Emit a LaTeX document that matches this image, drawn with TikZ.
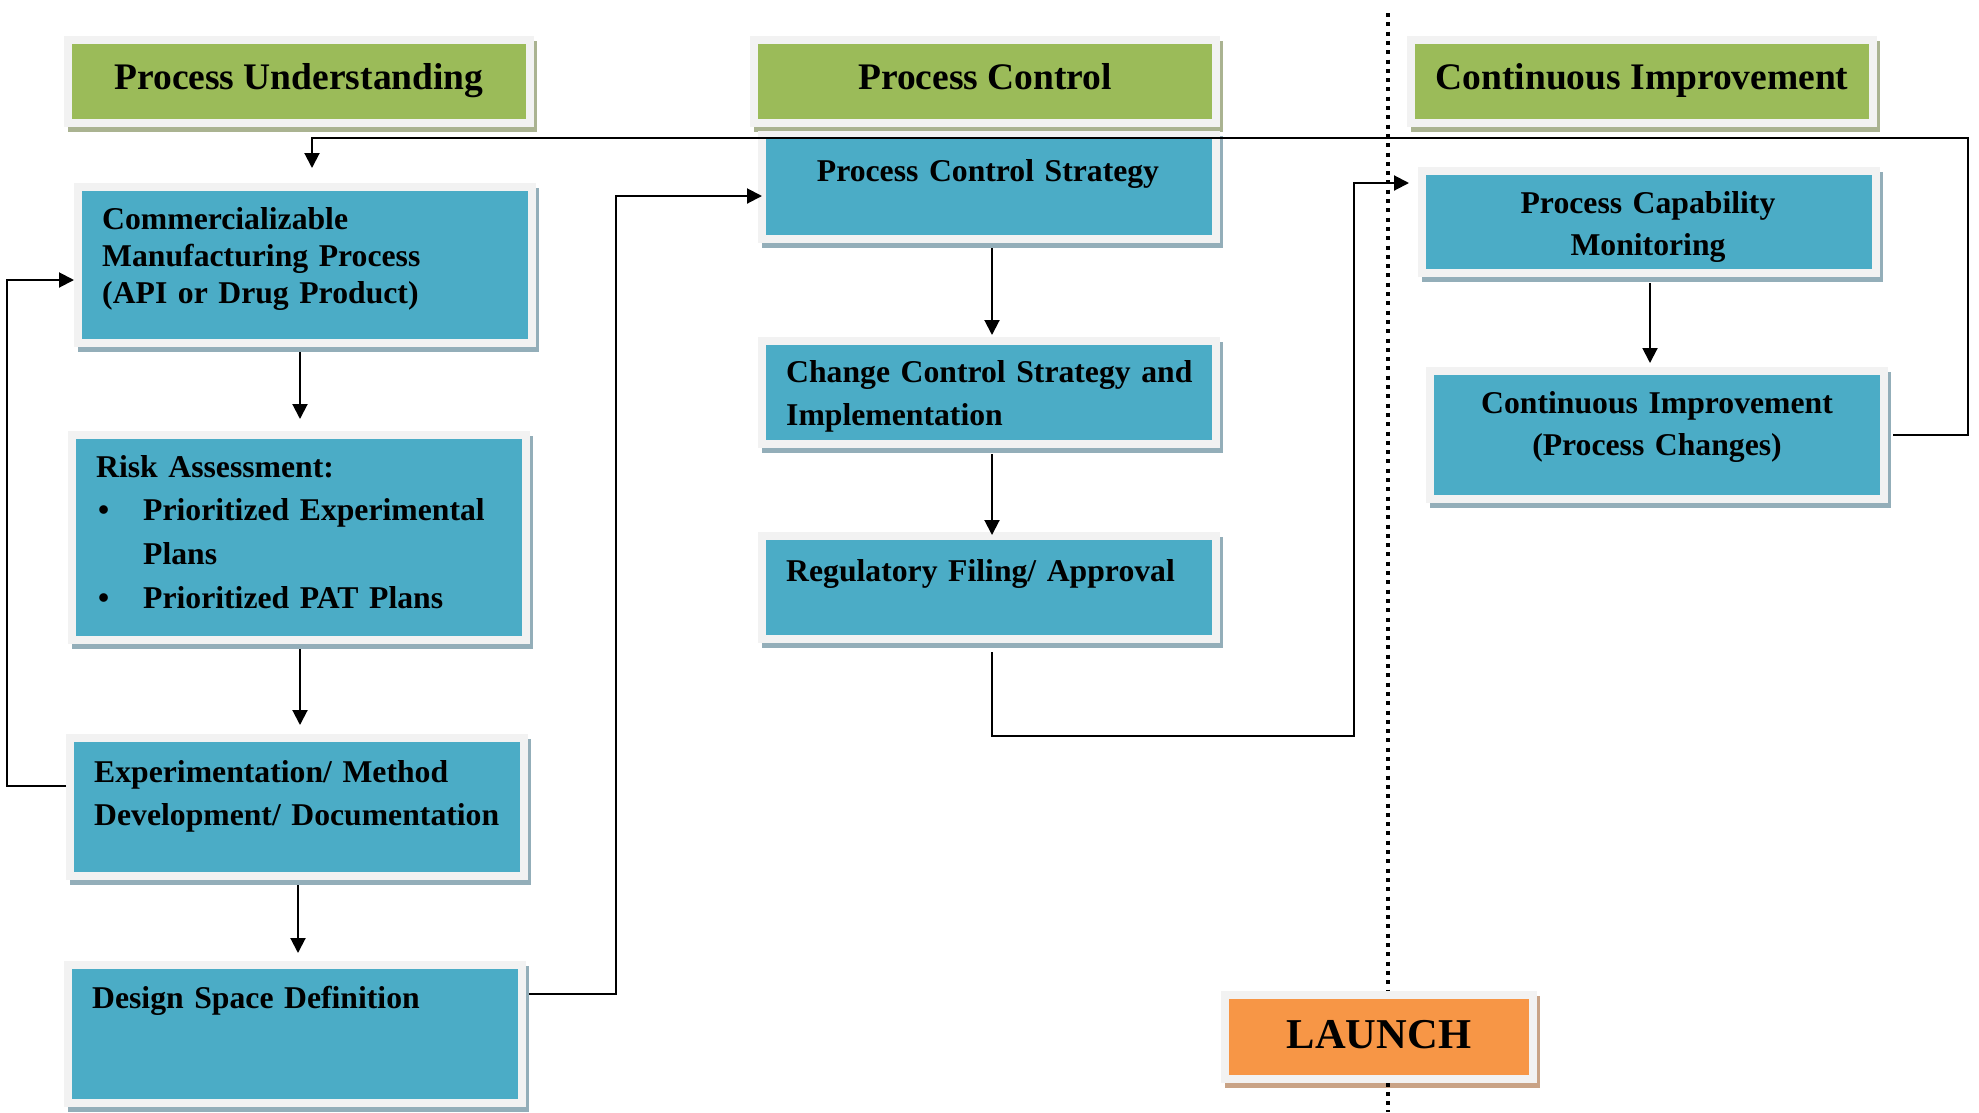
\documentclass[tikz,border=0pt]{standalone}
\usepackage{fontspec}
\setmainfont{Liberation Serif}
\usetikzlibrary{arrows.meta,backgrounds,calc}
\definecolor{framegray}{HTML}{F2F2F2}
\definecolor{cellblue}{HTML}{4BACC6}
\definecolor{cellgreen}{HTML}{9BBB59}
\definecolor{cellorange}{HTML}{F79646}
\definecolor{shblue}{HTML}{93AEB9}
\definecolor{shgreen}{HTML}{AAB391}
\definecolor{shorange}{HTML}{C9A386}

\begin{document}
\begin{tikzpicture}[x=1pt,y=-1pt,
  frame/.style={draw=framegray,line width=8pt,inner sep=0pt,outer sep=4pt,anchor=north west},
  bluebox/.style={frame,fill=cellblue,minimum width=454},
  greenbox/.style={frame,fill=cellgreen,minimum width=462,minimum height=83},
  orangebox/.style={frame,fill=cellorange},
  body/.style={inner sep=0pt,font=\bfseries\fontsize{31.7}{43}\selectfont,align=left,text width=440pt,anchor=base west},
  bodyc/.style={inner sep=0pt,font=\bfseries\fontsize{31.7}{42}\selectfont,align=center,text width=440pt,anchor=base},
  head/.style={inner sep=0pt,font=\bfseries\fontsize{37.5}{45}\selectfont,anchor=base},
  link/.style={line width=2pt},
  arr/.style={link,-{Triangle[length=15pt,width=15pt]}},
]
\useasboundingbox (0,0) rectangle (1979,1112);

% phase separator (launch)
\draw[line width=4pt,dash pattern=on 4pt off 5.3pt] (1388,13) -- (1388,1112);

% column headers
\node[greenbox] (h1) at (64,36) {};
\node[greenbox] (h2) at (750,36) {};
\node[greenbox] (h3) at (1407,36) {};
\node[head] (h1t) at (299,89) {Process Understanding};
\node[head] (h2t) at (985,89) {Process Control};
\node[head] (h3t) at (1642,89) {Continuous Improvement};

% process understanding column
\node[bluebox,minimum height=156] (b1) at (74,183) {};
\node[bluebox,minimum height=205] (b2) at (68,431) {};
\node[bluebox,minimum height=138] (b3) at (66,734) {};
\node[bluebox,minimum height=138] (b4) at (64,961) {};

% process control column
\node[bluebox,minimum height=104] (c1) at (758,131) {};
\node[bluebox,minimum height=103] (c2) at (758,337) {};
\node[bluebox,minimum height=103] (c3) at (758,532) {};

% continuous improvement column
\node[bluebox,minimum height=102] (pcm) at (1418,167) {};
\node[bluebox,minimum height=128] (ci) at (1426,367) {};

% launch
\node[orangebox,minimum width=308,minimum height=84] (launch) at (1221,991) {};

% drop shadows
\begin{pgfonlayer}{background}
\foreach \n/\c in {h1/shgreen,h2/shgreen,h3/shgreen,b1/shblue,b2/shblue,b3/shblue,b4/shblue,c1/shblue,c2/shblue,c3/shblue,pcm/shblue,ci/shblue,launch/shorange}
  \fill[\c] ([shift={(4,5)}]\n.north west) rectangle ([shift={(3,5)}]\n.south east);
\end{pgfonlayer}

% box texts
\node[body,font=\bfseries\fontsize{31.7}{37}\selectfont] (b1t) at (102,229)
  {Commercializable\\Manufacturing Process\\(API or Drug Product)};
\node[body,font=\bfseries\fontsize{31.7}{43.7}\selectfont] (b2t) at (96,477)
  {Risk Assessment:\\
   \makebox[47pt][l]{\hspace*{2pt}•}Prioritized Experimental\\
   \hspace*{47pt}Plans\\
   \makebox[47pt][l]{\hspace*{2pt}•}Prioritized PAT Plans};
\node[body] (b3t) at (94,782) {Experimentation/ Method\\Development/ Documentation};
\node[body] (b4t) at (92,1008) {Design Space Definition};
\node[bodyc] (c1t) at (988,181) {Process Control Strategy};
\node[body] (c2t) at (786,382) {Change Control Strategy and\\Implementation};
\node[body] (c3t) at (786,581) {Regulatory Filing/ Approval};
\node[bodyc] (pcmt) at (1648,213) {Process Capability\\Monitoring};
\node[bodyc] (cit) at (1657,413) {Continuous Improvement\\(Process Changes)};
\node[head,font=\bfseries\fontsize{42.5}{50}\selectfont] (launcht) at (1379,1048) {LAUNCH};

% flow within columns
\draw[arr] ([xshift=-5pt,yshift=-5pt]b1.south) -- ([xshift=-5pt,yshift=12pt]b1.south |- b2.north);
\draw[arr] ([xshift=1pt,yshift=-5pt]b2.south) -- ([xshift=1pt,yshift=9pt]b2.south |- b3.north);
\draw[arr] ([xshift=1pt,yshift=-5pt]b3.south) -- ([xshift=1pt,yshift=8pt]b3.south |- b4.north);
\draw[arr] ([xshift=3pt,yshift=-5pt]c1.south) -- ([xshift=3pt,yshift=2pt]c1.south |- c2.north);
\draw[arr] ([xshift=3pt,yshift=-6pt]c2.south) -- ([xshift=3pt,yshift=-3pt]c2.south |- c3.north);
\draw[arr] ([xshift=1pt,yshift=-6pt]pcm.south) -- ([xshift=1pt,yshift=4pt]pcm.south |- ci.north);

% feedback and hand-over links
\coordinate (rtop) at (1968,138);
\coordinate (cross) at (1354,736);
\draw[arr] ([xshift=5pt]ci.east) -| (rtop) -| ([xshift=7pt,yshift=15pt]b1.north);
\draw[arr] ([yshift=21pt]b3.west) -- ++(-59,0) |- ([yshift=-15pt]b1.west);
\draw[arr] ([xshift=3pt,yshift=40pt]b4.east) -- ++(87,0) |- ([xshift=4pt,yshift=-9pt]c1.west);
\draw[arr] ([xshift=3pt,yshift=-9pt]c3.south) |- (cross) |- ([xshift=-9pt,yshift=39pt]pcm.west);
\end{tikzpicture}
\end{document}
